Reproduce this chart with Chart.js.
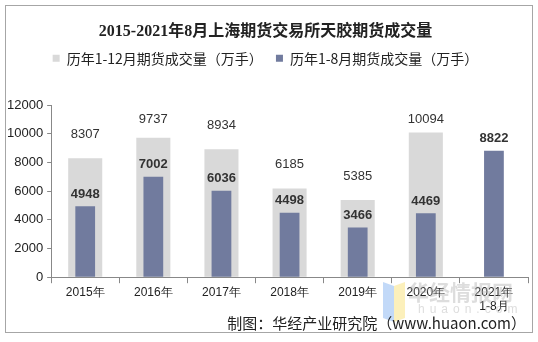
<!DOCTYPE html>
<html>
<head>
<meta charset="utf-8">
<script src="https://cdn.jsdelivr.net/npm/chart.js@4"></script>
<style>
  body { margin: 0; background: #fff; }
  #wrap { position: relative; width: 538px; height: 342px; }
  #frame { position: absolute; left: 5px; top: 5px; width: 528px; height: 328px; border: 1px solid #a6a6a6; box-sizing: border-box; }
  #foot { position: absolute; right: 12px; top: 312px; font: 15px "Noto Sans CJK SC", sans-serif; color: #222; }
  #mark { position: absolute; left: 408px; top: 276px; font: bold 21px "Noto Sans CJK SC", sans-serif; color: rgba(170,170,170,0.4); }
  #mark2 { position: absolute; left: 418px; top: 302px; font: 12px "Liberation Sans", sans-serif; letter-spacing: 5px; color: rgba(170,170,170,0.4); }
  #logo1 { position: absolute; left: 383px; top: 284px; width: 11px; height: 36px; background: rgba(120,170,240,0.45); transform: skewY(20deg); }
  #logo2 { position: absolute; left: 394px; top: 284px; width: 11px; height: 36px; background: rgba(250,225,120,0.5); transform: skewY(-20deg); }
</style>
</head>
<body>
<div id="wrap">
  <canvas id="myChart" width="538" height="342"></canvas>
  <div id="frame"></div>
  <div id="logo1"></div>
  <div id="logo2"></div>
  <div id="mark">华经情报网</div>
  <div id="mark2">huaon.com</div>
  <div id="foot">制图：华经产业研究院（www.huaon.com）</div>
</div>
<script>
var years = ["2015年", "2016年", "2017年", "2018年", "2019年", "2020年", ["2021年", "1-8月"]];
var fullYear = [8307, 9737, 8934, 6185, 5385, 10094, null];
var janAug = [4948, 7002, 6036, 4498, 3466, 4469, 8822];
var yTicks = [0, 2000, 4000, 6000, 8000, 10000, 12000];

var barLabels = {
  id: "barLabels",
  beforeInit: function(chart) {
    var origFit = chart.legend.fit;
    chart.legend.fit = function() {
      origFit.bind(chart.legend)();
      this.height += 30;
    };
  },
  afterDatasetsDraw: function(chart) {
    var ctx = chart.ctx;
    var top = chart.chartArea.top;
    ctx.save();
    ctx.textAlign = "center";
    ctx.textBaseline = "middle";
    ctx.fillStyle = "#333";
    chart.data.datasets.forEach(function(ds, i) {
      var meta = chart.getDatasetMeta(i);
      meta.data.forEach(function(bar, j) {
        var v = ds.data[j];
        if (v == null) return;
        if (i == 0) {
          ctx.font = "13px 'Liberation Sans', Arial, sans-serif";
          var y = Math.max(bar.y - 24, top + 14);
          ctx.fillText(v, bar.x, y);
        } else {
          ctx.font = "bold 13px 'Liberation Sans', Arial, sans-serif";
          ctx.fillText(v, bar.x, bar.y - 12);
        }
      });
    });
    ctx.restore();
  }
};

var ctx = document.getElementById("myChart").getContext("2d");
var myChart = new Chart(ctx, {
  type: "bar",
  data: {
    labels: years,
    datasets: [
      {
        label: "历年1-12月期货成交量（万手）",
        data: fullYear,
        backgroundColor: "#d9d9d9",
        grouped: false,
        barPercentage: 0.5,
        categoryPercentage: 1,
        order: 2,
      },
      {
        label: "历年1-8月期货成交量（万手）",
        data: janAug,
        backgroundColor: "#717b9e",
        grouped: false,
        barPercentage: 0.29,
        categoryPercentage: 1,
        order: 1,
      },
    ],
  },
  options: {
    responsive: false,
    animation: false,
    layout: {
      padding: { left: 3, right: 10, top: 14, bottom: 26 },
    },
    plugins: {
      title: {
        display: true,
        text: "2015-2021年8月上海期货交易所天胶期货成交量",
        color: "#222",
        font: { family: "'Liberation Serif', 'Noto Sans CJK SC'", size: 16, weight: "bold" },
        padding: { top: 8, bottom: 0 },
      },
      legend: {
        display: true,
        labels: {
          boxWidth: 7,
          boxHeight: 7,
          padding: 10,
          color: "#222",
          font: { family: "'Noto Sans CJK SC'", size: 14 },
          generateLabels: function(chart) {
            var items = Chart.defaults.plugins.legend.labels.generateLabels(chart);
            items.sort(function(a, b) { return a.datasetIndex - b.datasetIndex; });
            items[0].text = items[0].text + " ";
            return items;
          },
        },
      },
      tooltip: { enabled: false },
    },
    scales: {
      x: {
        grid: {
          display: true,
          drawOnChartArea: false,
          drawTicks: true,
          tickLength: 6,
          color: "#888",
        },
        border: { color: "#888" },
        ticks: {
          color: "#222",
          font: { family: "'Liberation Sans', Arial, sans-serif", size: 12 },
          padding: 2,
          maxRotation: 0,
        },
      },
      y: {
        min: 0,
        max: 12000,
        afterBuildTicks: function(axis) {
          axis.ticks = yTicks.map(function(v) { return { value: v }; });
        },
        grid: {
          display: true,
          drawOnChartArea: false,
          drawTicks: true,
          tickLength: 4,
          color: "#888",
        },
        border: { color: "#888" },
        ticks: {
          color: "#222",
          font: { family: "'Liberation Sans', Arial, sans-serif", size: 13 },
          padding: 4,
          callback: function(v) { return String(v); },
        },
      },
    },
  },
  plugins: [barLabels],
});
</script>
</body>
</html>
